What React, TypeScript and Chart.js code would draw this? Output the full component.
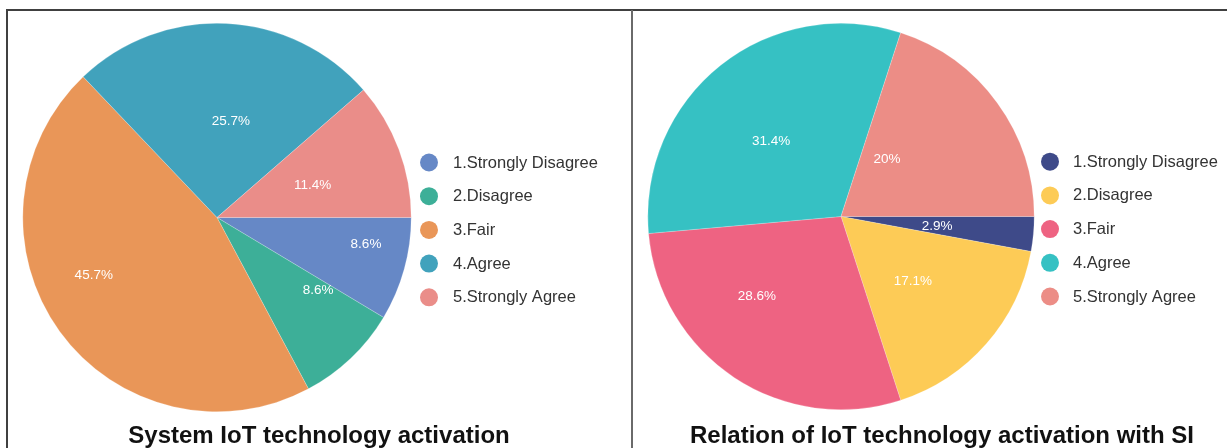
import React, { useEffect, useRef } from 'react';
import { Chart, registerables } from 'chart.js';

Chart.register(...registerables);

// ---- data ----
const categories = ['1.Strongly Disagree', '2.Disagree', '3.Fair', '4.Agree', '5.Strongly Agree'];
const systemActivationPct = [8.6, 8.6, 45.7, 25.7, 11.4];
const relationWithSIPct = [2.9, 17.1, 28.6, 31.4, 20];
const systemColors = ['#6688C6', '#3DAF98', '#E99658', '#41A2BC', '#EA8D89'];
const relationColors = ['#3E4A89', '#FDCB56', '#EE6382', '#36C1C3', '#EC8D86'];
const systemTitle = 'System IoT technology activation';
const relationTitle = 'Relation of IoT technology activation with SI';

const FONT = '"Liberation Sans", Arial, Helvetica, sans-serif';

type Decor = {
  place: number[][]; // [radius fraction, angle fraction within slice]
  legendX: number;
  legendY0: number;
  legendDy: number;
  legendTextX: number;
  title: string;
  titleX: number;
  titleY: number;
};

function makeDecorPlugin(cfg: Decor) {
  return {
    id: 'decor',
    afterDatasetsDraw(chart: any) {
      const ctx = chart.ctx as CanvasRenderingContext2D;
      const meta = chart.getDatasetMeta(0);
      const ds = chart.data.datasets[0];
      ctx.save();
      ctx.font = `13.5px ${FONT}`;
      ctx.fillStyle = '#ffffff';
      ctx.textAlign = 'center';
      ctx.textBaseline = 'middle';
      meta.data.forEach((arc: any, i: number) => {
        const p = arc.getProps(['x', 'y', 'startAngle', 'endAngle', 'outerRadius'], true);
        const pl = cfg.place[i] || [0.5, 0.5];
        const a = p.startAngle + (p.endAngle - p.startAngle) * pl[1];
        const r = p.outerRadius * pl[0];
        const v = Number(ds.data[i]);
        const txt = `${Number(v.toFixed(1))}%`;
        ctx.fillText(txt, p.x + Math.cos(a) * r, p.y + Math.sin(a) * r);
      });
      ctx.restore();
    },
    afterDraw(chart: any) {
      const ctx = chart.ctx as CanvasRenderingContext2D;
      const ds = chart.data.datasets[0];
      const labels: string[] = chart.data.labels;
      ctx.save();
      // legend
      ctx.font = `16.5px ${FONT}`;
      ctx.textAlign = 'left';
      ctx.textBaseline = 'middle';
      labels.forEach((lab, i) => {
        const y = cfg.legendY0 + i * cfg.legendDy;
        ctx.beginPath();
        ctx.arc(cfg.legendX, y, 9, 0, Math.PI * 2);
        ctx.fillStyle = ds.backgroundColor[i];
        ctx.fill();
        ctx.fillStyle = '#333333';
        ctx.fillText(lab, cfg.legendTextX, y + 0.5);
      });
      // title
      ctx.font = `bold 24px ${FONT}`;
      ctx.textAlign = 'center';
      ctx.fillStyle = '#111111';
      ctx.fillText(cfg.title, cfg.titleX, cfg.titleY);
      ctx.restore();
    },
  };
}

type PieProps = {
  left: number;
  top: number;
  width: number;
  height: number;
  values: number[];
  colors: string[];
  padding: { left: number; right: number; top: number; bottom: number };
  decor: Decor;
};

function PiePanel({ left, top, width, height, values, colors, padding, decor }: PieProps) {
  const ref = useRef<HTMLCanvasElement | null>(null);
  useEffect(() => {
    if (!ref.current) return;
    const chart = new Chart(ref.current, {
      type: 'pie',
      data: {
        labels: categories,
        datasets: [
          {
            data: values,
            backgroundColor: colors,
            borderColor: 'rgba(255,255,255,0.35)',
            borderWidth: 0.6,
            hoverBorderWidth: 0.6,
            hoverOffset: 0,
          },
        ],
      },
      options: {
        responsive: false,
        animation: false,
        events: [],
        rotation: 90,
        layout: { padding },
        plugins: {
          legend: { display: false },
          tooltip: { enabled: false },
          title: { display: false },
        },
      },
      plugins: [makeDecorPlugin(decor)],
    } as any);
    return () => chart.destroy();
  }, []);
  return (
    <canvas
      ref={ref}
      width={width}
      height={height}
      style={{ position: 'absolute', left, top, width, height }}
    />
  );
}

export default function App() {
  return (
    <div
      style={{
        position: 'absolute',
        left: 0,
        top: 0,
        width: 1227,
        height: 448,
        overflow: 'hidden',
        background: '#ffffff',
      }}
    >
      <div
        style={{
          position: 'absolute',
          left: 6,
          top: 9,
          width: 1300,
          height: 500,
          border: '2px solid #404040',
          boxSizing: 'border-box',
        }}
      />
      <div
        style={{
          position: 'absolute',
          left: 631,
          top: 10,
          width: 1.5,
          height: 500,
          background: '#6a6a6a',
        }}
      />
      <PiePanel
        left={8}
        top={11}
        width={623}
        height={437}
        values={systemActivationPct}
        colors={systemColors}
        padding={{ left: 14.5, right: 219.5, top: 12, bottom: 36 }}
        decor={{
          place: [
            [0.78, 0.335],
            [0.64, 0.15],
            [0.7, 0.566],
            [0.5, 0.56],
            [0.52, 0.54],
          ],
          legendX: 421,
          legendY0: 151.5,
          legendDy: 33.7,
          legendTextX: 445,
          title: systemTitle,
          titleX: 311,
          titleY: 425,
        }}
      />
      <PiePanel
        left={633}
        top={11}
        width={620}
        height={437}
        values={relationWithSIPct}
        colors={relationColors}
        padding={{ left: 14.5, right: 218.5, top: 12, bottom: 38 }}
        decor={{
          place: [
            [0.5, 0.58],
            [0.5, 0.51],
            [0.6, 0.627],
            [0.53, 0.46],
            [0.38, 0.29],
          ],
          legendX: 417,
          legendY0: 150.7,
          legendDy: 33.7,
          legendTextX: 440,
          title: relationTitle,
          titleX: 309,
          titleY: 425,
        }}
      />
    </div>
  );
}
